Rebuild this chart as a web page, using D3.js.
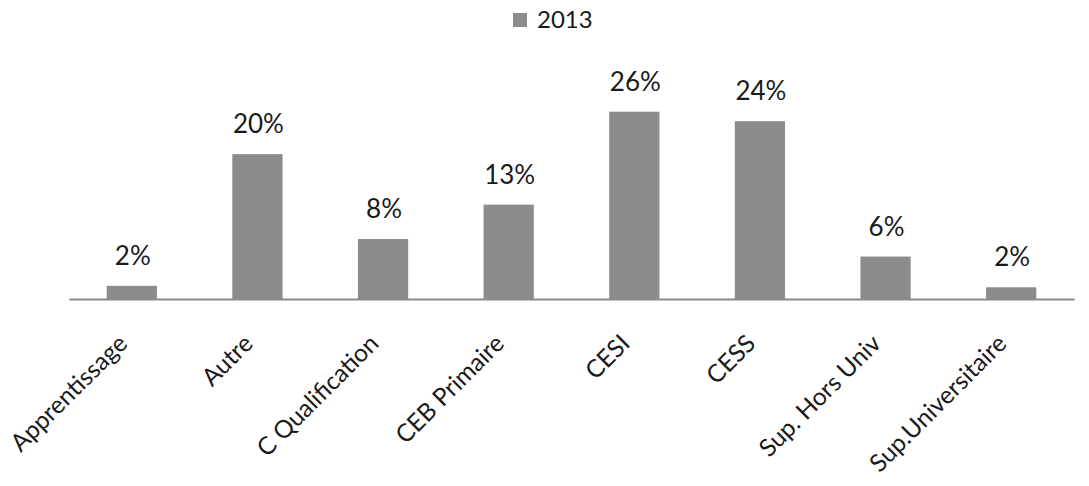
<!DOCTYPE html>
<html><head><meta charset="utf-8">
<script src="https://cdn.jsdelivr.net/npm/d3@7"></script>
<style>body{margin:0;background:#fff}svg{display:block}text{font-family:Lato,"Open Sans",sans-serif;fill:#1a1a1a}</style>
</head><body><div id="chart"></div>
<script>
const categories = ["Apprentissage","Autre","C Qualification","CEB Primaire","CESI","CESS","Sup. Hors Univ","Sup.Universitaire"];
const values2013 = [1.8, 19.8, 8.2, 12.9, 25.6, 24.3, 5.8, 1.6];
const seriesName = "2013";

const W = 1089, H = 486;
const svg = d3.select("#chart").append("svg").attr("width", W).attr("height", H);
const x = d3.scaleBand().domain(categories).range([69, 1074]).paddingInner(0.6).paddingOuter(0.3);
const y = d3.scaleLinear().domain([0, 30]).range([299, 79.5]);
const barColor = "#8c8c8c";

svg.append("g").selectAll("rect").data(categories).join("rect")
  .attr("x", d => x(d)).attr("width", x.bandwidth())
  .attr("y", (d,i) => y(values2013[i])).attr("height", (d,i) => y(0) - y(values2013[i]))
  .attr("fill", barColor);

svg.append("g").selectAll("text").data(categories).join("text")
  .attr("x", d => x(d) + x.bandwidth()/2 + 1)
  .attr("y", (d,i) => y(values2013[i]) - 21)
  .attr("text-anchor", "middle").attr("font-size", 26)
  .text((d,i) => Math.round(values2013[i]) + "%");

const ax = svg.append("g").attr("transform", `translate(0,${y(0)})`).call(d3.axisBottom(x).tickSize(0).tickPadding(0));
ax.select(".domain").attr("stroke", "#8a8a8a").attr("stroke-width", 2);
ax.selectAll(".tick text")
  .attr("font-size", 24.5).attr("fill", "#1a1a1a")
  .attr("text-anchor", "end").attr("dy", null).attr("y", 0)
  .attr("transform", "translate(-3,46) rotate(-45)");

const lg = svg.append("g");
lg.append("rect").attr("x", 513).attr("y", 13).attr("width", 14).attr("height", 14).attr("fill", barColor);
lg.append("text").attr("x", 537).attr("y", 28).attr("font-size", 24).text(seriesName);
</script></body></html>
